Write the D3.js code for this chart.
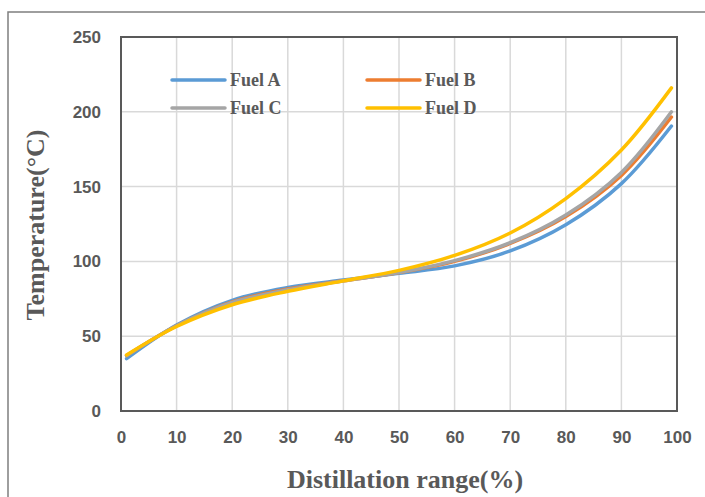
<!DOCTYPE html>
<html>
<head>
<meta charset="utf-8">
<script src="https://cdn.jsdelivr.net/npm/d3@7"></script>
<style>
  body { margin: 0; background: #fff; }
  svg { display: block; }
</style>
</head>
<body>
<svg id="chart" width="705" height="497"></svg>
<script>
// data
var distill = [1, 10, 20, 30, 40, 50, 60, 70, 80, 90, 99];
var fuelA = [35, 57.5, 74, 82.5, 87.5, 92, 97, 107, 124.5, 152, 190.5];
var fuelB = [37, 57, 73, 81.5, 87, 92.5, 100, 112, 130, 157.5, 196.5];
var fuelC = [37, 57, 72.5, 81, 87, 92.5, 100.5, 112.5, 131, 159.5, 200];
var fuelD = [37.5, 56.5, 71, 80, 87, 94, 104, 119, 142, 174.5, 216];
var seriesNames = ["Fuel A", "Fuel B", "Fuel C", "Fuel D"];
var seriesColors = ["#5B9BD5", "#ED7D31", "#A5A5A5", "#FFC000"];
var xTicks = [0, 10, 20, 30, 40, 50, 60, 70, 80, 90, 100];
var yTicks = [0, 50, 100, 150, 200, 250];

var svg = d3.select("#chart");
var plotL = 121, plotR = 677, plotT = 37, plotB = 411;

// outer frame (cut off at right/bottom like the source)
svg.append("rect")
    .attr("x", 8).attr("y", 12)
    .attr("width", 720).attr("height", 520)
    .attr("fill", "none")
    .attr("stroke", "#7f7f7f")
    .attr("stroke-width", 1.5);

var x = d3.scaleLinear().domain([0, 100]).range([plotL, plotR]);
var y = d3.scaleLinear().domain([0, 250]).range([plotB, plotT]);

// gridlines
svg.append("g")
    .selectAll("line")
    .data(xTicks)
    .enter().append("line")
    .attr("x1", d => x(d)).attr("x2", d => x(d))
    .attr("y1", plotT).attr("y2", plotB)
    .attr("stroke", "#d9d9d9").attr("stroke-width", 1.5);
svg.append("g")
    .selectAll("line")
    .data(yTicks)
    .enter().append("line")
    .attr("x1", plotL).attr("x2", plotR)
    .attr("y1", d => y(d)).attr("y2", d => y(d))
    .attr("stroke", "#d9d9d9").attr("stroke-width", 1.5);

// tick labels
var xAxis = svg.append("g")
    .attr("transform", "translate(0," + plotB + ")")
    .call(d3.axisBottom(x).tickValues(xTicks).tickSize(0).tickPadding(20));
var yAxis = svg.append("g")
    .attr("transform", "translate(" + plotL + ",0)")
    .call(d3.axisLeft(y).tickValues(yTicks).tickSize(0).tickPadding(20));
[xAxis, yAxis].forEach(function (g) {
    g.select(".domain").remove();
    g.selectAll("text")
        .attr("fill", "#595959")
        .style("font-family", "'Liberation Sans Narrow', 'Liberation Sans', Arial, sans-serif")
        .style("font-weight", "bold")
        .style("font-size", "17px");
});

// plot frame
svg.append("rect")
    .attr("x", plotL).attr("y", plotT)
    .attr("width", plotR - plotL).attr("height", plotB - plotT)
    .attr("fill", "none")
    .attr("stroke", "#595959")
    .attr("stroke-width", 2);

// curves
var allSeries = [fuelA, fuelB, fuelC, fuelD];
var line = d3.line()
    .x(d => x(d[0]))
    .y(d => y(d[1]))
    .curve(d3.curveCatmullRom.alpha(0.5));
allSeries.forEach(function (vals, i) {
    svg.append("path")
        .datum(distill.map((d, j) => [d, vals[j]]))
        .attr("d", line)
        .attr("fill", "none")
        .attr("stroke", seriesColors[i])
        .attr("stroke-width", 3.5)
        .attr("stroke-linecap", "round");
});

// legend
var legend = svg.append("g");
seriesNames.forEach(function (name, i) {
    var lx = 172 + (i % 2) * 195;
    var ly = 80 + Math.floor(i / 2) * 28;
    legend.append("line")
        .attr("x1", lx).attr("x2", lx + 53)
        .attr("y1", ly).attr("y2", ly)
        .attr("stroke", seriesColors[i])
        .attr("stroke-width", 3.5)
        .attr("stroke-linecap", "round");
    legend.append("text")
        .attr("x", lx + 58).attr("y", ly + 6)
        .text(name)
        .attr("fill", "#595959")
        .style("font-family", "'Liberation Serif', 'Times New Roman', serif")
        .style("font-weight", "bold")
        .style("font-size", "18px");
});

// axis titles
svg.append("text")
    .attr("x", 405).attr("y", 488)
    .attr("text-anchor", "middle")
    .attr("fill", "#595959")
    .style("font-family", "'Liberation Serif', 'Times New Roman', serif")
    .style("font-weight", "bold")
    .style("font-size", "26px")
    .text("Distillation range(%)");
svg.append("text")
    .attr("transform", "translate(44,225) rotate(-90)")
    .attr("text-anchor", "middle")
    .attr("fill", "#595959")
    .style("font-family", "'Liberation Serif', 'Times New Roman', serif")
    .style("font-weight", "bold")
    .style("font-size", "26px")
    .text("Temperature(\u00B0C)");
</script>
</body>
</html>
